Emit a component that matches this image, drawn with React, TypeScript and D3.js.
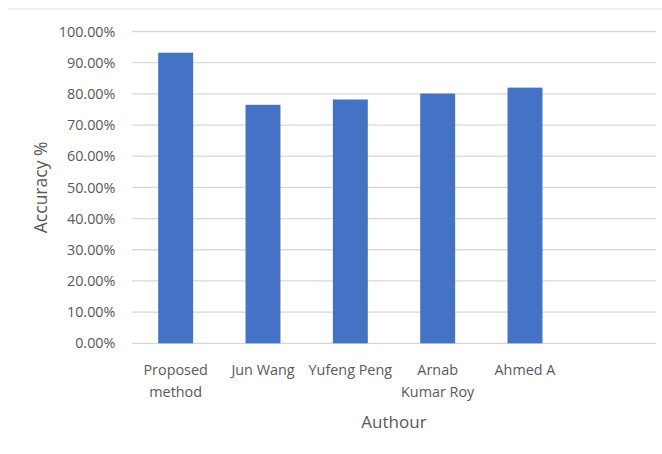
import React from "react";
import * as d3 from "d3";

const categories: string[] = ["Proposed method", "Jun Wang", "Yufeng Peng", "Arnab Kumar Roy", "Ahmed A", ""];
const categoryLines: string[][] = [["Proposed", "method"], ["Jun Wang"], ["Yufeng Peng"], ["Arnab", "Kumar Roy"], ["Ahmed A"], []];
const accuracy: (number | null)[] = [0.932, 0.765, 0.782, 0.801, 0.82, null];
const yTicks: number[] = [0, 0.1, 0.2, 0.3, 0.4, 0.5, 0.6, 0.7, 0.8, 0.9, 1.0];

const W = 662;
const H = 454;
const left = 132;
const right = 656;
const top = 31.5;
const bottom = 343.3;
const FONT = "'Open Sans', Lato, sans-serif";

export default function App() {
  const keys = categories.map((c, i) => c + "#" + i);
  const x = d3.scaleBand<string>().domain(keys).range([left, right]).paddingInner(0.6).paddingOuter(0.3);
  const y = d3.scaleLinear().domain([0, 1]).range([bottom, top]);
  const fmt = d3.format(".2%");
  return (
    <svg width={W} height={H} style={{ position: "absolute", left: 0, top: 0, background: "#fff" }} fontFamily={FONT}>
      <line x1={8} x2={W} y1={9} y2={9} stroke="#e6e6e6" strokeWidth={1} />
      {yTicks.map((t) => (
        <g key={t}>
          <line x1={left} x2={right} y1={y(t)} y2={y(t)} stroke="#d9d9d9" strokeWidth={1.3} />
          <text x={115.5} y={y(t)} dy="0.36em" textAnchor="end" fontSize={14.4} fill="#595959">
            {fmt(t)}
          </text>
        </g>
      ))}
      {accuracy.map((v, i) =>
        v == null ? null : (
          <rect key={i} x={x(keys[i])} width={x.bandwidth()} y={y(v)} height={y(0) - y(v)} fill="#4472C4" />
        )
      )}
      {categoryLines.map((lines, i) => (
        <text key={i} textAnchor="middle" fontSize={14.4} fill="#595959">
          {lines.map((l, j) => (
            <tspan key={j} x={(x(keys[i]) as number) + x.bandwidth() / 2} y={374.5 + j * 22}>
              {l}
            </tspan>
          ))}
        </text>
      ))}
      <text x={(left + right) / 2} y={428} textAnchor="middle" fontSize={17} fill="#595959">
        Authour
      </text>
      <text transform={`translate(47, ${(top + bottom) / 2}) rotate(-90)`} textAnchor="middle" fontSize={17.5} fill="#595959">
        Accuracy %
      </text>
    </svg>
  );
}
